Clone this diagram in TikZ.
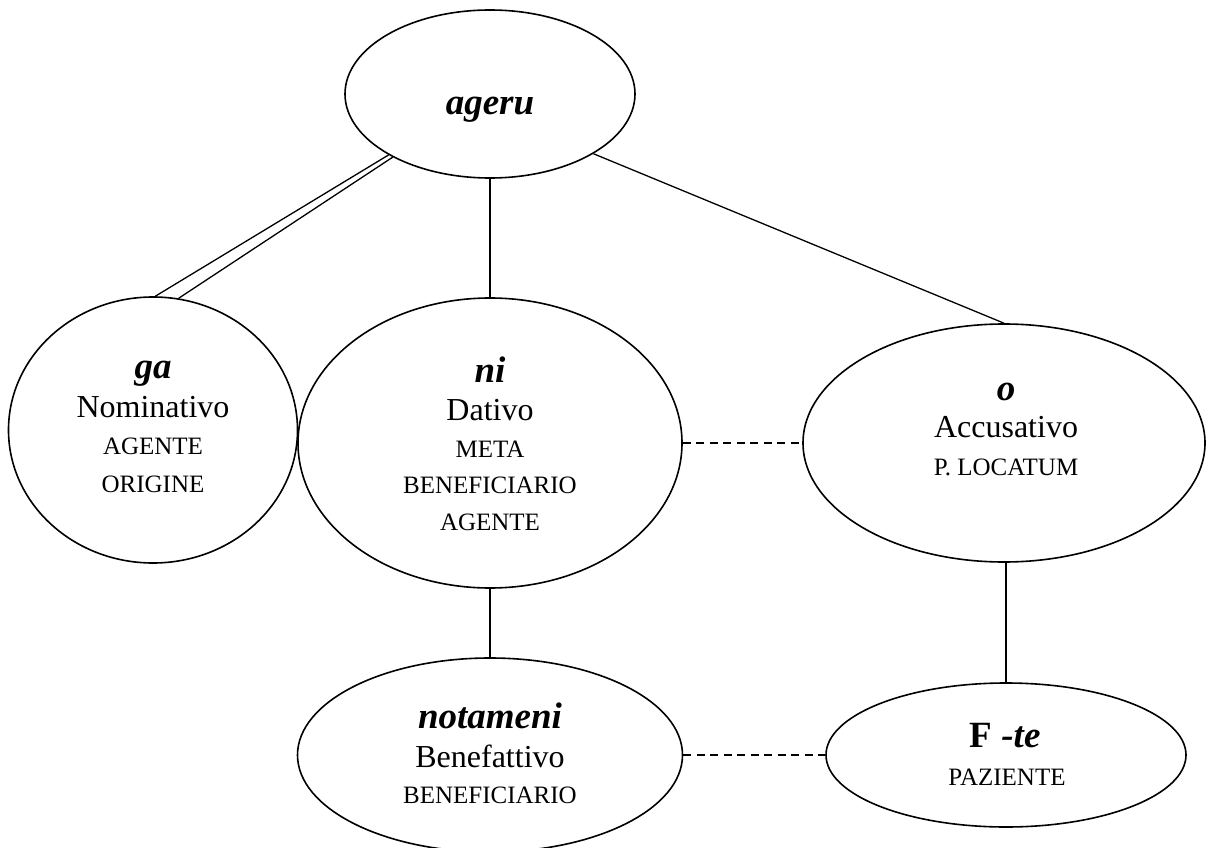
\documentclass[tikz,border=0pt]{standalone}
\usepackage{fontspec}
\setmainfont{Liberation Serif}
\usetikzlibrary{shapes.geometric}

\tikzset{
  oval/.style={draw, ellipse, line width=1.6pt, inner sep=0pt},
  head/.style={anchor=base, inner sep=0pt, font=\fontsize{37}{40}\selectfont\bfseries\itshape},
  headup/.style={anchor=base, inner sep=0pt, font=\fontsize{37}{40}\selectfont\bfseries},
  case/.style={anchor=base, inner sep=0pt, font=\fontsize{32}{36}\selectfont},
  role/.style={anchor=base, inner sep=0pt, font=\fontsize{25}{28}\selectfont},
  link/.style={line width=1.3pt},
  dlink/.style={line width=1.3pt, dash pattern=on 8pt off 5.5pt}
}

\begin{document}
\begin{tikzpicture}[x=1pt, y=-1pt]
  % canvas
  \fill[white] (0,0) rectangle (1208,848);
  \useasboundingbox (0,0) rectangle (1208,848);

  % ellipses
  \node[oval, minimum width=290pt, minimum height=168pt] (ag) at (490,94) {};
  \node[oval, minimum width=289pt, minimum height=266pt] (ga) at (153,430) {};
  \node[oval, minimum width=384pt, minimum height=290pt] (ni) at (490,443) {};
  \node[oval, minimum width=402pt, minimum height=238pt] (o)  at (1004,443) {};
  \node[oval, minimum width=385pt, minimum height=194pt] (nm) at (490,755) {};
  \node[oval, minimum width=360pt, minimum height=144pt] (ft) at (1006,755) {};

  % labels
  \node[head] (ag-t) at (490,115) {ageru};

  \node[head] (ga-t1) at (153,378) {ga};
  \node[case] (ga-t2) at (153,417) {Nominativo};
  \node[role] (ga-t3) at (153,454) {AGENTE};
  \node[role] (ga-t4) at (153,492) {ORIGINE};

  \node[head] (ni-t1) at (490,382) {ni};
  \node[case] (ni-t2) at (490,420) {Dativo};
  \node[role] (ni-t3) at (490,457) {META};
  \node[role] (ni-t4) at (490,493) {BENEFICIARIO};
  \node[role] (ni-t5) at (490,530) {AGENTE};

  \node[head] (o-t1) at (1006,400) {o};
  \node[case] (o-t2) at (1006,437) {Accusativo};
  \node[role] (o-t3) at (1006,475) {P. LOCATUM};

  \node[head] (nm-t1) at (490,728) {notameni};
  \node[case] (nm-t2) at (490,767) {Benefattivo};
  \node[role] (nm-t3) at (490,803) {BENEFICIARIO};

  \node[headup] (ft-t1) at (1005,747) {F \itshape -te};
  \node[role] (ft-t2) at (1007,785) {PAZIENTE};

  % connectors
  \draw[link] (ag.211) -- (ga.89);
  \draw[link] (ag.213) -- (ga.79);
  \draw[link] (ag.south) -- (ni.north);
  \draw[link] (ag.330) -- (o.north);
  \draw[link] (ni.south) -- (nm.north);
  \draw[link] (ft.north |- o.south) -- (ft.north);
  \draw[dlink] (ni.east) -- (o.west);
  \draw[dlink] (nm.east) -- (ft.west);
\end{tikzpicture}
\end{document}
